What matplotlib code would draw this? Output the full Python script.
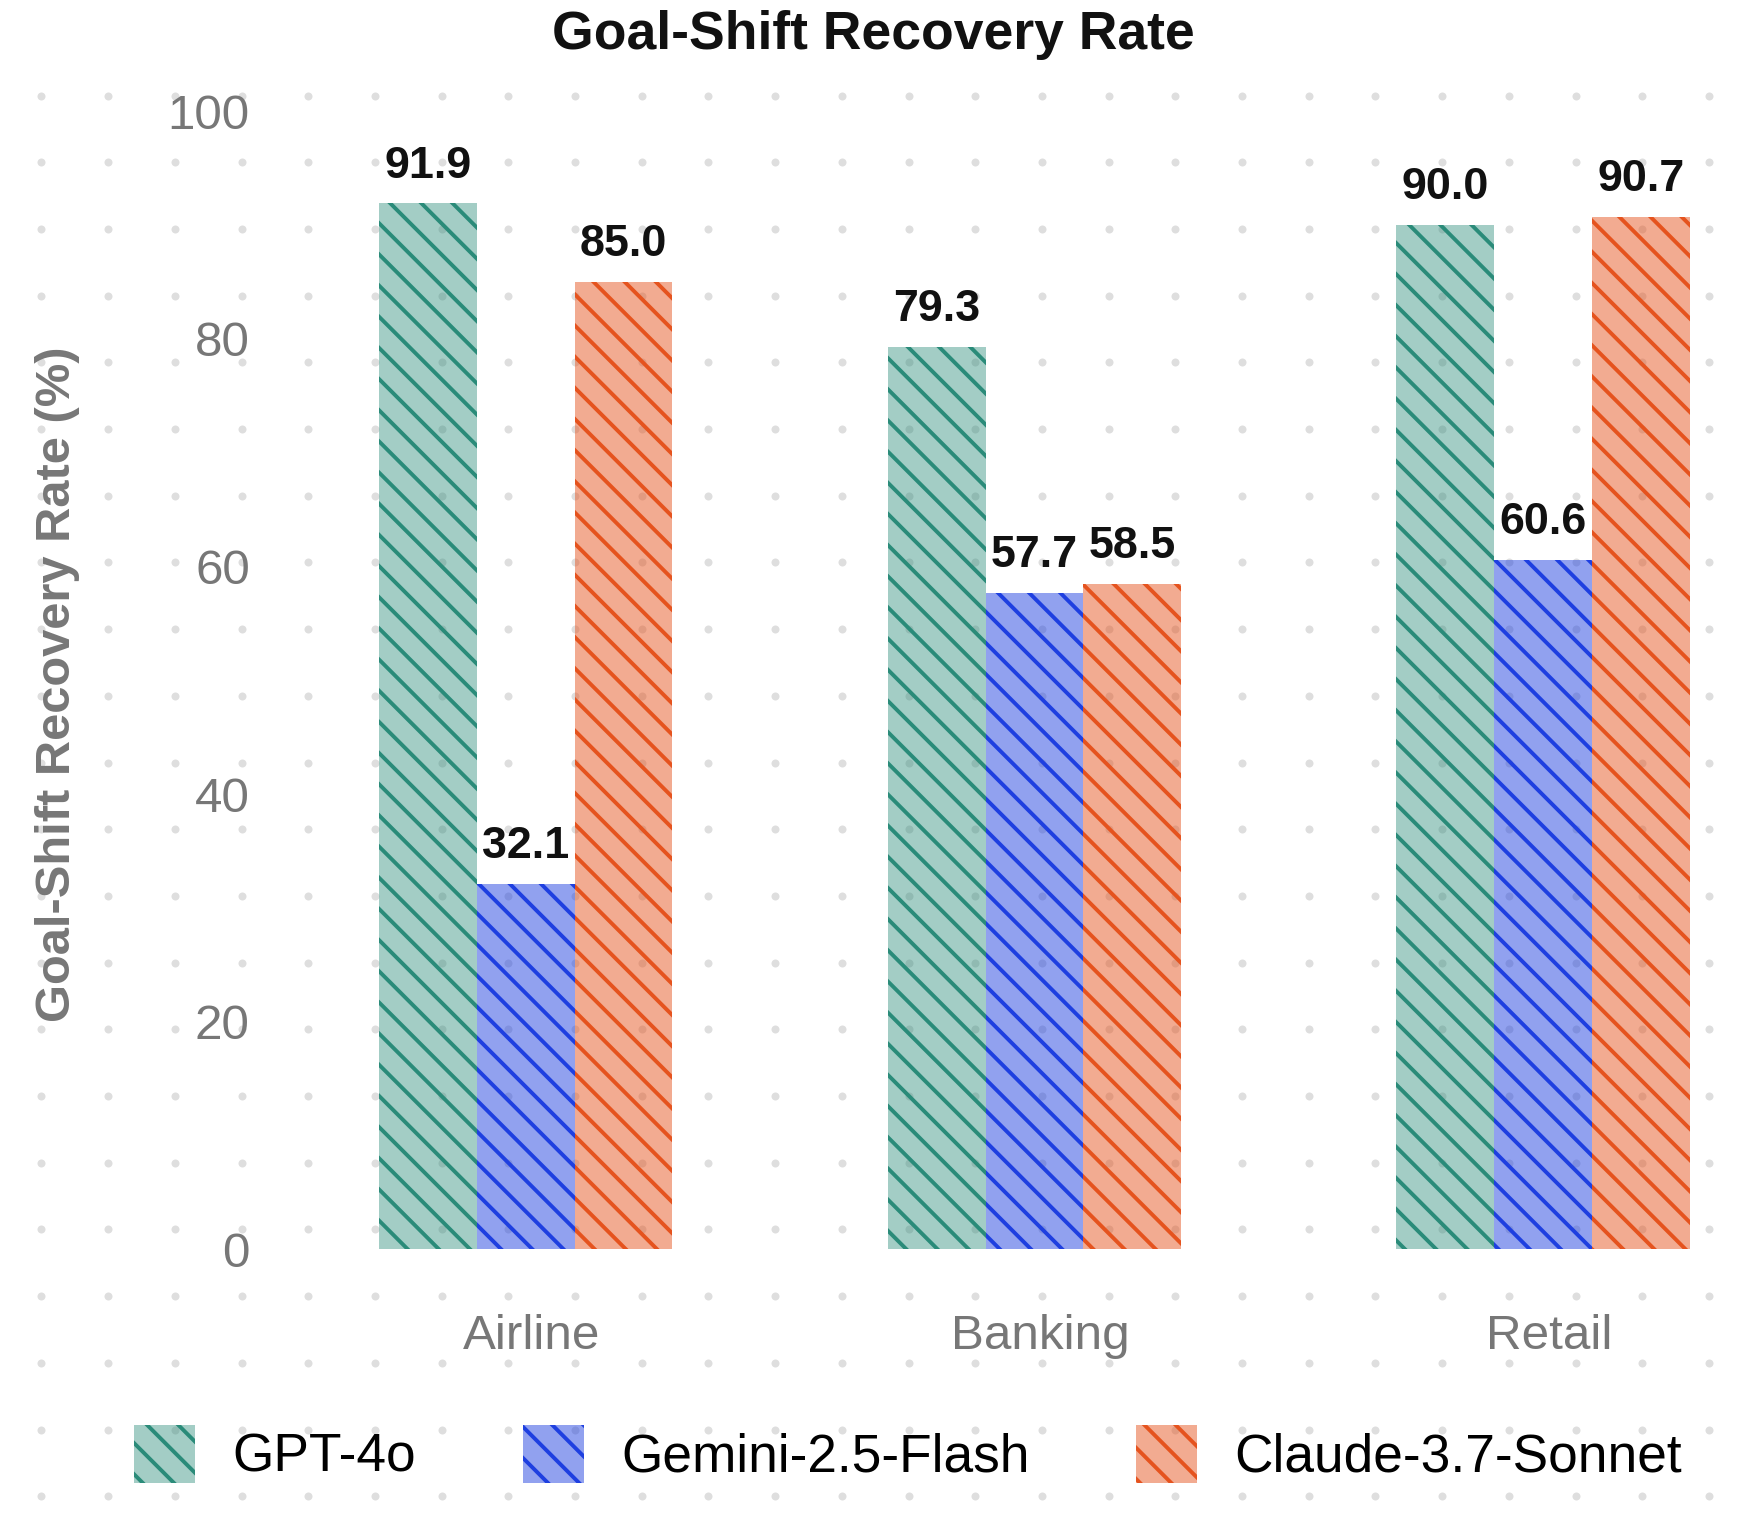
import numpy as np
import matplotlib

matplotlib.use("Agg")
import matplotlib.pyplot as plt
from matplotlib.transforms import ScaledTranslation

plt.rcParams["font.family"] = ["Liberation Sans", "DejaVu Sans"]
plt.rcParams["hatch.linewidth"] = 1.5

domains = ["Airline", "Banking", "Retail"]
models = ["GPT-4o", "Gemini-2.5-Flash", "Claude-3.7-Sonnet"]
gpt_4o = [91.9, 79.3, 90.0]
gemini_flash = [32.1, 57.7, 60.6]
claude_sonnet = [85.0, 58.5, 90.7]
y_ticks = [0, 20, 40, 60, 80, 100]

series = [gpt_4o, gemini_flash, claude_sonnet]
fills = [(0.165, 0.545, 0.475, 0.43), (0.12, 0.25, 0.88, 0.49), (0.90, 0.33, 0.12, 0.49)]
hatch_colors = ["#2a8b79", "#1e3fe0", "#e5531e"]

DPI = 187
W, H = 1746, 1522
fig = plt.figure(figsize=(W / DPI, H / DPI), dpi=DPI)

# dotted background across the whole figure
bg = fig.add_axes([0, 0, 1, 1], zorder=0)
bg.set_xlim(0, W)
bg.set_ylim(H, 0)
bg.axis("off")
gx, gy = np.meshgrid(41.5 + 66.7 * np.arange(26), 95.5 + 66.7 * np.arange(22))
bg.scatter(gx.ravel(), gy.ravel(), s=9.5, color="#dedede", linewidths=0)

ax = fig.add_axes([260 / W, 272.7 / H, 1466 / W, 1138 / H], zorder=1)
ax.patch.set_alpha(0)

x = np.arange(len(domains))
width = 0.1924
for i, (vals, name) in enumerate(zip(series, models)):
    bars = ax.bar(x + (i - 1) * width, vals, width, label=name,
                  facecolor=fills[i], edgecolor=hatch_colors[i],
                  linewidth=0, hatch="\\\\")
    for b, v in zip(bars, vals):
        ax.annotate(f"{v:.1f}", (b.get_x() + b.get_width() / 2, v),
                    xytext=(0, 10), textcoords="offset points",
                    ha="center", va="baseline", fontsize=17.3,
                    fontweight="bold", color="#111111")

ax.set_xlim(-0.522, 2.359)
ax.set_ylim(0, 100)
ax.set_xticks(x)
ax.set_xticklabels(domains)
ax.set_yticks(y_ticks)
ax.tick_params(axis="y", length=0, pad=3.9, labelsize=19, labelcolor="#777777")
ax.tick_params(axis="x", length=0, pad=25, labelsize=19, labelcolor="#777777")
for lbl in ax.get_xticklabels():
    lbl.set_transform(lbl.get_transform() + ScaledTranslation(6 / DPI, 0, fig.dpi_scale_trans))
for s in ax.spines.values():
    s.set_visible(False)

fig.text(58 / W, 1 - 684 / H, "Goal-Shift Recovery Rate (%)", rotation=90,
         ha="center", va="center", fontsize=18.8, fontweight="bold", color="#777777")
fig.text(0.5, 1 - 49 / H, "Goal-Shift Recovery Rate", ha="center", va="baseline",
         fontsize=20.6, fontweight="bold", color="#111111")

ax.legend(loc="center", bbox_to_anchor=(908 / W, 1 - 1454 / H),
          bbox_transform=fig.transFigure, ncol=3, frameon=False, fontsize=20.5,
          handlelength=1.15, handleheight=1.32, handletextpad=0.7,
          columnspacing=2.0)

fig.savefig("out.png", dpi=DPI)
plt.close(fig)
